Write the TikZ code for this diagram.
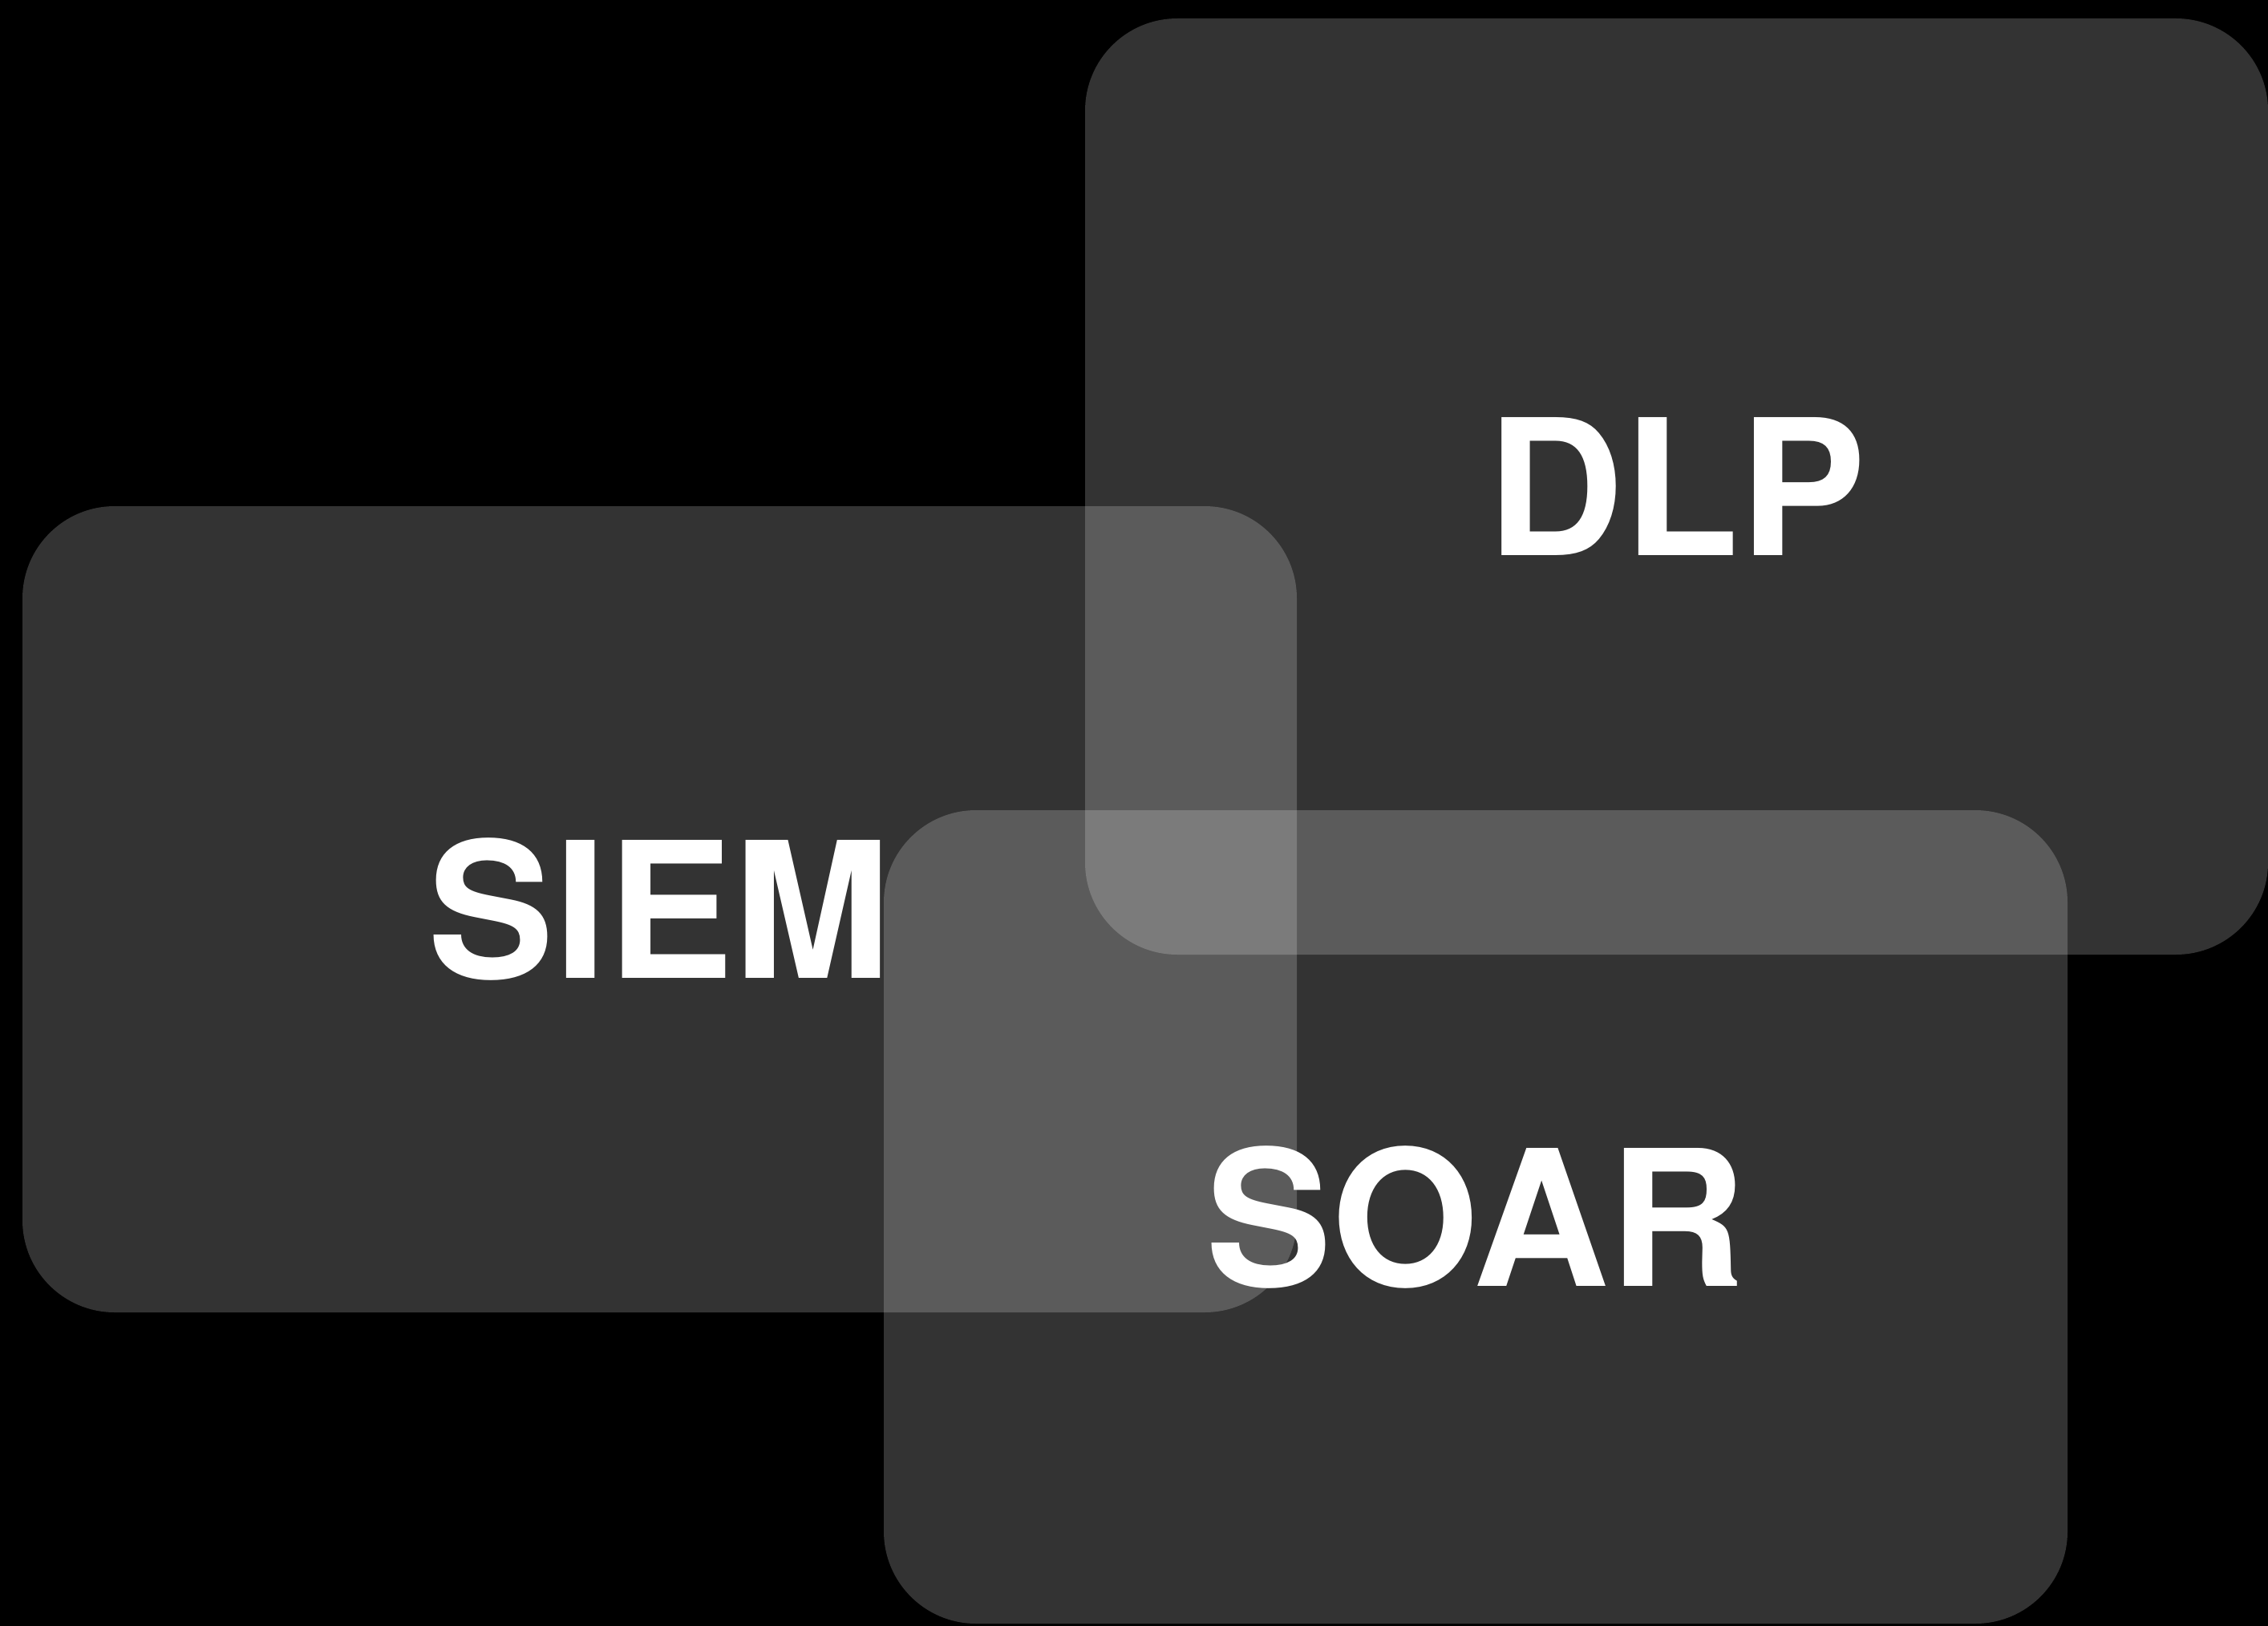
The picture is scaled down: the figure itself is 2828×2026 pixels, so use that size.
\documentclass[tikz,border=0pt]{standalone}
\usepackage{fontspec}
\setmainfont{TeX Gyre Heros}
\begin{document}
\begin{tikzpicture}[x=1pt,y=-1pt,
  panel/.style={rectangle, rounded corners=115pt, fill=white, fill opacity=0.2,
    text opacity=1, text=white, inner sep=0pt, draw=none,
    font=\fontsize{236}{236}\selectfont\bfseries},
]
  \useasboundingbox (0,0) rectangle (2828,2026);
  % black canvas, slightly oversized so no light edge shows
  \fill[black, overlay] (-20,-20) rectangle (2848,2046);

  % overlapping translucent panels
  \node[panel, minimum width=1475pt, minimum height=1167pt] (dlp)  at (2090.5,606.5)  {DLP};
  \node[panel, minimum width=1589pt, minimum height=1005pt] (siem) at (822.5,1133.5)  {SIEM};
  \node[panel, minimum width=1476pt, minimum height=1014pt] (soar) at (1840,1517)     {SOAR};
\end{tikzpicture}
\end{document}
